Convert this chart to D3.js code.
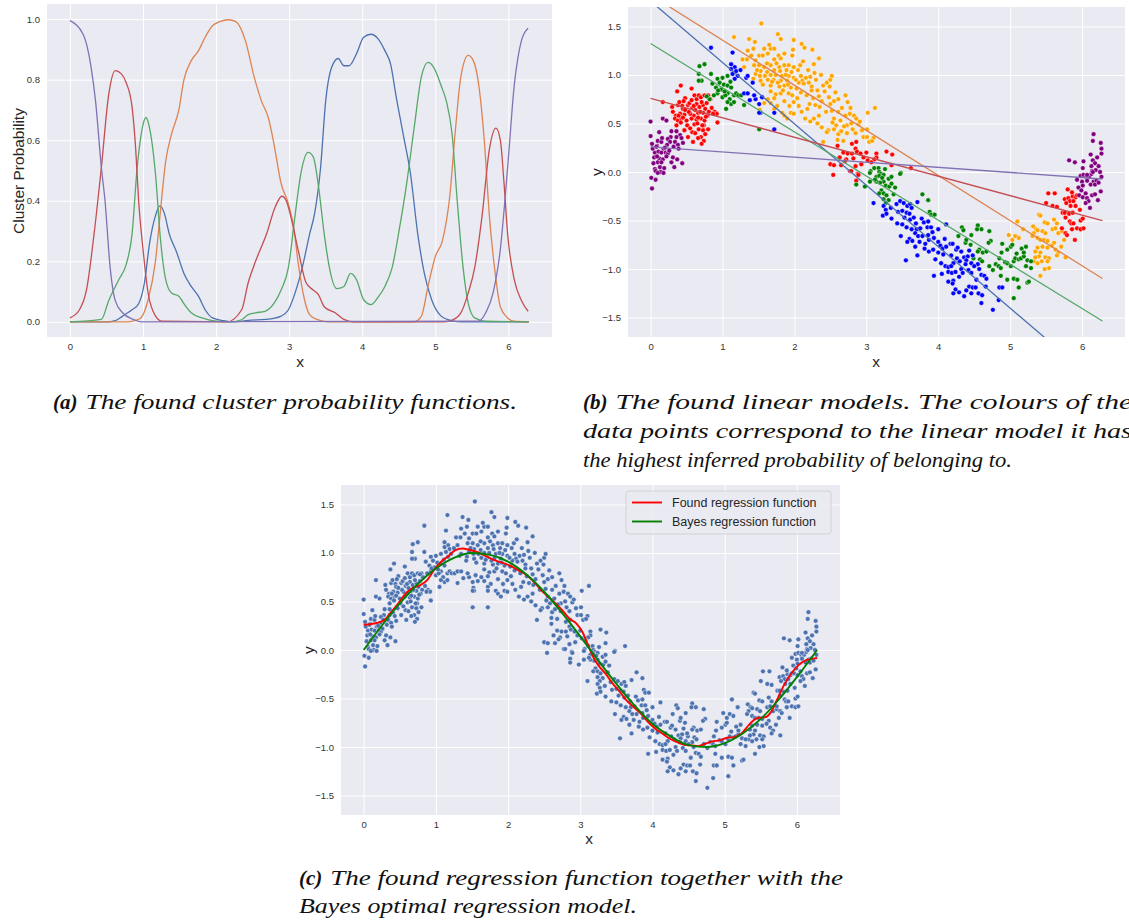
<!DOCTYPE html>
<html><head><meta charset="utf-8">
<script src="https://cdn.jsdelivr.net/npm/d3@7"></script>
<style>body{margin:0;background:#fff;} svg{display:block;}</style>
</head><body>
<script>
// ---------------- DATA ----------------
// (a) cluster probability functions: [x, probability]
const probBlue = [[0,0],[0.5,0],[0.62,0.004],[0.72,0.019],[0.85,0.04],[0.94,0.06],[1.02,0.13],[1.09,0.26],[1.17,0.35],[1.23,0.383],[1.29,0.36],[1.36,0.29],[1.46,0.23],[1.56,0.16],[1.66,0.117],[1.76,0.084],[1.85,0.04],[1.95,0.013],[2.1,0.004],[2.25,0],[2.44,0.005],[2.69,0.008],[2.89,0.019],[2.99,0.04],[3.08,0.095],[3.18,0.18],[3.28,0.29],[3.35,0.36],[3.43,0.51],[3.5,0.73],[3.58,0.84],[3.67,0.87],[3.75,0.846],[3.82,0.846],[3.92,0.885],[4.02,0.94],[4.12,0.95],[4.22,0.934],[4.31,0.896],[4.39,0.85],[4.46,0.75],[4.56,0.62],[4.66,0.49],[4.76,0.29],[4.85,0.16],[4.95,0.073],[5.08,0.019],[5.22,0.004],[5.35,0],[6.28,0]];
const probOrange = [[0,0],[0.8,0],[0.87,0.003],[0.97,0.013],[1.07,0.073],[1.17,0.2],[1.24,0.37],[1.31,0.53],[1.39,0.62],[1.49,0.7],[1.56,0.8],[1.66,0.863],[1.76,0.896],[1.85,0.94],[1.95,0.978],[2.05,0.992],[2.17,0.998],[2.27,0.992],[2.4,0.93],[2.52,0.81],[2.62,0.73],[2.72,0.67],[2.79,0.59],[2.89,0.457],[2.99,0.39],[3.06,0.315],[3.13,0.183],[3.21,0.073],[3.28,0.024],[3.38,0.008],[3.53,0],[4.71,0],[4.81,0.019],[4.9,0.117],[5.0,0.216],[5.1,0.27],[5.2,0.42],[5.27,0.62],[5.35,0.81],[5.45,0.88],[5.52,0.863],[5.59,0.79],[5.67,0.6],[5.74,0.35],[5.82,0.16],[5.89,0.05],[5.99,0.013],[6.08,0.002],[6.28,0]];
const probGreen = [[0,0],[0.43,0.008],[0.53,0.07],[0.67,0.14],[0.77,0.19],[0.85,0.29],[0.92,0.51],[0.99,0.64],[1.04,0.675],[1.09,0.64],[1.17,0.49],[1.24,0.27],[1.31,0.14],[1.39,0.095],[1.49,0.085],[1.56,0.06],[1.66,0.03],[1.81,0.013],[1.95,0.004],[2.2,0],[2.35,0.007],[2.44,0.024],[2.54,0.03],[2.67,0.035],[2.79,0.06],[2.89,0.105],[2.99,0.18],[3.08,0.35],[3.16,0.49],[3.26,0.56],[3.33,0.545],[3.4,0.45],[3.48,0.29],[3.55,0.18],[3.65,0.11],[3.75,0.117],[3.84,0.16],[3.92,0.14],[4.02,0.073],[4.12,0.057],[4.21,0.079],[4.31,0.117],[4.41,0.18],[4.51,0.31],[4.61,0.46],[4.71,0.64],[4.81,0.81],[4.9,0.857],[4.98,0.84],[5.08,0.78],[5.15,0.73],[5.23,0.62],[5.3,0.4],[5.38,0.18],[5.45,0.062],[5.54,0.013],[5.69,0.002],[6.28,0]];
const probRed = [[0,0.013],[0.13,0.04],[0.23,0.11],[0.33,0.29],[0.43,0.51],[0.53,0.75],[0.62,0.83],[0.7,0.82],[0.77,0.79],[0.85,0.71],[0.9,0.57],[0.94,0.4],[1.0,0.24],[1.07,0.095],[1.17,0.02],[1.26,0.002],[2.15,0],[2.35,0.04],[2.44,0.13],[2.54,0.2],[2.69,0.29],[2.81,0.38],[2.9,0.415],[2.96,0.4],[3.03,0.34],[3.13,0.23],[3.23,0.13],[3.33,0.105],[3.4,0.09],[3.48,0.05],[3.63,0.03],[3.75,0.008],[3.87,0],[5.1,0],[5.22,0.005],[5.35,0.03],[5.45,0.095],[5.54,0.18],[5.64,0.35],[5.74,0.57],[5.83,0.64],[5.89,0.6],[5.94,0.46],[5.99,0.29],[6.08,0.14],[6.18,0.07],[6.27,0.035]];
const probPurple = [[0,0.995],[0.18,0.95],[0.29,0.84],[0.35,0.73],[0.43,0.51],[0.48,0.4],[0.55,0.18],[0.62,0.07],[0.72,0.03],[0.87,0.008],[0.98,0],[5.59,0.002],[5.69,0.03],[5.79,0.095],[5.89,0.24],[5.99,0.51],[6.08,0.78],[6.18,0.93],[6.27,0.97]];

// (b)/(c) data points [x, y] grouped by assigned cluster
const ptsPurple = [[0,0.52],[0,0.37],[0.17,0.55],[0.22,0.53],[0.12,0.41],[0.29,0.42],[0.36,0.42],[0.41,0.38],[0.28,0.36],[0.24,0.34],[0.36,0.36],[0.43,0.35],[0.10,0.32],[0.15,0.31],[0.27,0.31],[0.34,0.31],[0.45,0.30],[0.09,0.27],[0.23,0.28],[0.38,0.28],[0.18,0.24],[0.06,0.2],[0.11,0.21],[0.15,0.2],[0.21,0.2],[0.24,0.19],[0.05,0.15],[0.12,0.14],[0.17,0.13],[0.31,0.15],[0.37,0.13],[0.44,0.09],[0.1,0.1],[0.15,0.1],[0.29,0.1],[0.06,0.03],[0.13,0.05],[0.19,0.04],[0.07,0.01],[0.14,0],[0.01,-0.06],[0.07,-0.08],[0.02,-0.17],[0.1,-0.01],[0.18,-0.01],[0.03,0.24],[0.08,0.26],[0.2,0.25],[0.26,0.22],[0.32,0.26],[0.04,0.09],[0.09,0.16],[0.22,0.16],[0.02,0.29],[0.16,0.35],[0.33,0.05],[0.39,0.24],
 [5.98,-0.04],[6.02,-0.03],[6.06,-0.05],[6.10,-0.05],[6.13,-0.02],[6.14,0.01],[5.93,-0.08],[6.00,-0.10],[6.07,-0.09],[6.16,-0.10],[6.20,-0.09],[6.12,-0.13],[6.18,-0.13],[6.23,-0.11],[6.01,-0.14],[5.95,-0.16],[5.99,-0.19],[6.05,-0.22],[5.96,-0.24],[6.01,-0.26],[6.07,-0.27],[6.09,-0.30],[6.14,-0.24],[6.18,-0.23],[6.26,-0.20],[6.22,-0.29],[6.11,-0.37],[6.05,-0.32],[6.16,0.39],[6.15,0.32],[6.26,0.30],[6.27,0.24],[6.27,0.19],[6.12,0.18],[6.21,0.15],[5.82,0.12],[5.90,0.10],[6.02,0.11],[6.01,0.04],[6.15,0.12],[6.18,0.09],[6.13,0.06],[6.23,0.06],[6.19,0.02],[6.15,0.0],[6.07,-0.03],[6.25,0.0],[6.27,-0.05]];
const ptsRed = [[0.17,0.72],[0.42,0.89],[0.37,0.83],[0.57,0.86],[0.61,0.79],[0.64,0.75],[0.67,0.79],[0.70,0.77],[0.75,0.79],[0.80,0.79],[0.83,0.75],[0.48,0.76],[0.52,0.69],[0.38,0.69],[0.44,0.68],[0.45,0.65],[0.58,0.66],[0.64,0.70],[0.68,0.67],[0.73,0.69],[0.76,0.65],[0.81,0.62],[0.89,0.62],[0.92,0.60],[0.87,0.60],[0.79,0.58],[0.73,0.61],[0.66,0.61],[0.60,0.58],[0.55,0.60],[0.47,0.59],[0.41,0.60],[0.35,0.58],[0.34,0.55],[0.38,0.53],[0.43,0.55],[0.50,0.53],[0.57,0.55],[0.64,0.54],[0.70,0.55],[0.75,0.53],[0.93,0.51],[0.36,0.48],[0.51,0.48],[0.61,0.49],[0.74,0.48],[0.58,0.41],[0.67,0.44],[0.73,0.43],[0.76,0.39],[0.52,0.36],[0.70,0.36],[0.74,0.32],[0.71,0.29],[0.59,0.31],[0.30,0.67],[0.31,0.62],[0.40,0.72],[0.46,0.73],[0.54,0.71],[0.62,0.64],[0.69,0.62],[0.78,0.71],[0.85,0.66],[0.42,0.51],[0.55,0.45],[0.65,0.50],[0.47,0.43],[0.62,0.40],[0.39,0.58],[0.53,0.62],[0.60,0.68],[0.71,0.72],[0.72,0.48],[0.80,0.44],[0.66,0.35],[0.45,0.56],[0.48,0.64],[0.57,0.74],[0.66,0.56],[0.77,0.57],
 [2.80,0.29],[2.86,0.31],[2.85,0.24],[2.87,0.21],[2.92,0.19],[2.60,0.27],[2.68,0.20],[2.74,0.19],[2.80,0.19],[3.00,0.20],[3.14,0.19],[3.28,0.21],[3.36,0.18],[2.63,0.15],[2.72,0.13],[2.82,0.14],[2.93,0.08],[3.02,0.12],[3.14,0.15],[3.11,0.13],[2.50,0.08],[2.55,0.07],[2.65,0.07],[2.77,0.01],[2.85,0.06],[2.88,-0.02],[3.35,0.07],[3.62,0.04],[2.54,-0.03],[2.79,0.01],[2.89,-0.03],[2.86,-0.09],[2.96,0.15],[3.07,0.10],[2.70,0.11],
 [5.53,-0.22],[5.62,-0.22],[5.50,-0.32],[5.59,-0.35],[5.65,-0.36],[5.76,-0.28],[5.81,-0.27],[5.83,-0.30],[5.78,-0.32],[5.87,-0.25],[5.91,-0.26],[5.93,-0.24],[5.88,-0.30],[5.84,-0.35],[5.91,-0.35],[5.97,-0.39],[5.73,-0.42],[5.76,-0.42],[5.82,-0.43],[5.87,-0.42],[5.77,-0.47],[5.83,-0.51],[5.85,-0.53],[5.88,-0.53],[5.98,-0.50],[6.01,-0.48],[5.86,-0.59],[5.93,-0.58],[5.98,-0.59],[6.02,-0.58],[5.77,-0.63],[5.79,-0.65],[5.90,-0.70],[5.72,-0.58],[5.80,-0.18],[5.86,-0.21]];
const ptsGreen = [[0.68,1.09],[0.75,1.11],[0.67,1.01],[0.84,1.01],[0.71,0.94],[0.67,0.94],[0.93,0.96],[1.0,0.97],[1.07,0.99],[0.96,0.92],[1.02,0.90],[0.91,0.87],[0.98,0.85],[1.07,0.89],[1.12,0.87],[1.07,0.81],[1.16,0.79],[1.19,0.81],[1.22,0.79],[0.93,0.81],[0.88,0.79],[0.82,0.75],[1.0,0.77],[1.04,0.79],[1.10,0.75],[1.12,0.70],[1.07,0.72],[1.05,0.65],[1.30,0.69],[1.16,0.72],[1.26,0.79],[1.51,0.44],[0.94,0.84],[1.03,0.83],[0.86,0.91],[1.11,0.93],[0.78,0.78],
 [3.06,0.01],[3.11,0.04],[3.17,0.04],[3.26,0.03],[3.18,0.0],[3.20,-0.02],[3.48,-0.01],[3.05,-0.01],[3.14,-0.05],[3.18,-0.04],[3.24,-0.03],[3.31,-0.07],[3.35,-0.05],[3.24,-0.1],[3.19,-0.11],[3.14,-0.1],[3.05,-0.1],[2.98,-0.15],[2.86,-0.13],[3.27,-0.14],[3.32,-0.15],[3.40,-0.16],[3.21,-0.19],[3.18,-0.22],[3.24,-0.22],[3.28,-0.24],[3.38,-0.23],[3.24,-0.28],[3.31,-0.29],[3.27,-0.32],[3.47,-0.02],[3.78,-0.23],[3.86,-0.29],[3.88,-0.41],[3.90,-0.44],[3.95,-0.44],[4.33,-0.57],[4.38,-0.73],[3.35,-0.12],[3.22,-0.06],[3.12,-0.08],
 [4.55,-0.55],[4.60,-0.59],[4.71,-0.61],[4.54,-0.59],[4.46,-0.65],[4.39,-0.70],[4.73,-0.71],[4.70,-0.73],[4.57,-0.80],[4.55,-0.82],[4.62,-0.83],[4.67,-0.82],[4.49,-0.89],[4.58,-0.90],[4.61,-0.92],[4.71,-0.97],[4.80,-0.95],[4.84,-0.97],[4.87,-0.99],[4.76,-1.01],[4.88,-0.83],[4.85,-0.89],[4.89,-0.74],[4.96,-0.80],[5.01,-0.77],[5.03,-0.75],[4.93,-0.93],[4.96,-0.94],[5.01,-0.97],[5.05,-0.92],[5.07,-0.89],[5.09,-0.84],[5.12,-0.90],[5.15,-0.89],[5.19,-0.87],[5.24,-0.91],[5.22,-0.97],[5.29,-0.92],[5.29,-0.99],[5.16,-0.79],[5.19,-0.83],[5.22,-0.77],[4.87,-1.07],[4.96,-1.11],[5.05,-1.10],[5.10,-1.11],[5.12,-1.19],[5.24,-1.14],[5.26,-1.13],[5.05,-1.30],[4.28,-0.66],[4.35,-0.60],[4.45,-0.75]];
const ptsBlue = [[0.84,1.28],[1.14,1.23],[1.17,1.08],[1.12,1.06],[1.19,1.04],[1.14,1.01],[1.21,0.99],[1.17,0.96],[1.33,0.97],[1.35,0.99],[1.42,0.92],[1.30,0.81],[1.35,0.81],[1.46,0.75],[1.51,0.70],[1.44,0.79],[1.53,0.61],[1.51,0.61],[1.72,0.44],[1.72,0.61],[1.12,1.11],[1.25,1.05],[1.38,0.74],[1.55,0.77],
 [3.10,-0.32],[3.24,-0.35],[3.27,-0.39],[3.42,-0.33],[3.47,-0.30],[3.52,-0.32],[3.57,-0.35],[3.61,-0.33],[3.63,-0.37],[3.71,-0.31],[3.44,-0.41],[3.50,-0.40],[3.56,-0.42],[3.23,-0.45],[3.28,-0.43],[3.35,-0.48],[3.60,-0.43],[3.61,-0.49],[3.66,-0.47],[3.69,-0.53],[3.77,-0.48],[3.80,-0.52],[3.86,-0.51],[3.43,-0.53],[3.50,-0.54],[3.56,-0.57],[3.63,-0.59],[3.70,-0.59],[3.75,-0.58],[3.85,-0.57],[3.90,-0.57],[4.00,-0.59],[4.11,-0.54],[3.48,-0.66],[3.68,-0.63],[3.72,-0.66],[3.78,-0.66],[3.86,-0.65],[3.87,-0.70],[3.94,-0.68],[4.00,-0.72],[4.03,-0.76],[3.60,-0.69],[3.64,-0.71],[3.57,-0.72],[3.68,-0.77],[3.81,-0.79],[3.87,-0.82],[3.93,-0.80],[4.00,-0.83],[4.06,-0.79],[4.11,-0.77],[4.07,-0.85],[4.17,-0.74],[4.20,-0.74],[4.25,-0.80],[4.27,-0.78],[4.32,-0.82],[4.18,-0.86],[4.26,-0.89],[4.30,-0.92],[4.36,-0.88],[4.21,-0.94],[4.10,-0.97],[4.14,-0.98],[4.18,-0.97],[4.04,-0.94],[3.55,-0.91],[3.71,-0.86],[3.94,-1.07],[4.14,-1.03],[4.19,-1.04],[4.24,-1.03],[4.32,-1.0],[4.34,-1.04],[4.29,-1.08],[4.21,-1.12],[4.14,-1.13],[4.20,-1.15],[4.24,-1.21],[4.21,-1.25],[4.29,-1.24],[4.36,-1.28],[4.43,-0.81],[4.41,-0.87],[4.48,-0.86],[4.39,-0.91],[4.46,-0.94],[4.55,-0.95],[4.50,-0.97],[4.42,-1.01],[4.57,-1.0],[4.46,-1.04],[4.60,-1.06],[4.64,-1.07],[4.67,-1.10],[4.53,-1.11],[4.43,-1.18],[4.48,-1.19],[4.52,-1.19],[4.56,-1.25],[4.46,-1.25],[4.61,-1.27],[4.66,-1.18],[4.85,-1.19],[4.89,-1.19],[4.60,-1.35],[4.84,-1.32],[4.76,-1.42],[4.39,-1.22],[3.34,-0.37],[3.53,-0.47],[3.74,-0.72],[3.96,-0.90],[4.09,-0.69],[4.38,-0.95],[3.92,-0.62],[3.82,-0.74],[4.05,-1.05]];
const ptsOrange = [[1.54,1.53],[1.16,1.39],[1.37,1.37],[1.45,1.34],[1.81,1.37],[1.99,1.36],[1.43,1.27],[1.58,1.27],[1.67,1.27],[1.72,1.27],[1.40,1.20],[1.51,1.20],[1.56,1.20],[1.63,1.22],[1.78,1.20],[1.86,1.22],[1.97,1.20],[1.28,1.16],[1.34,1.16],[1.46,1.15],[1.72,1.16],[1.81,1.17],[1.30,1.08],[1.44,1.10],[1.51,1.10],[1.58,1.08],[1.67,1.10],[1.79,1.08],[1.86,1.10],[1.92,1.10],[1.99,1.08],[1.53,1.04],[1.62,1.03],[1.72,1.05],[1.80,1.04],[1.89,1.05],[1.96,1.03],[1.46,1.01],[1.52,0.99],[1.59,0.99],[1.67,1.0],[1.74,1.0],[1.83,0.99],[1.92,0.99],[1.99,0.97],[1.43,0.96],[1.53,0.94],[1.63,0.95],[1.71,0.95],[1.81,0.94],[1.90,0.94],[1.56,0.90],[1.67,0.89],[1.79,0.88],[1.86,0.89],[1.95,0.87],[1.67,0.83],[1.74,0.80],[1.81,0.81],[1.92,0.81],[1.97,0.79],[1.63,0.75],[1.72,0.76],[1.86,0.73],[1.99,0.72],[1.58,0.71],[1.67,0.71],[1.76,0.68],[1.52,0.64],[1.72,0.65],[1.83,0.61],[1.95,0.61],[1.86,0.58],[1.99,0.60],[1.90,0.55],
 [2.14,1.28],[2.34,1.17],[2.12,1.14],[2.27,1.11],[2.05,1.05],[2.28,1.02],[2.09,0.99],[2.16,0.97],[2.22,0.98],[2.11,0.94],[2.06,0.92],[2.13,0.91],[2.20,0.92],[2.24,0.88],[2.40,0.89],[2.45,0.92],[2.50,0.95],[2.52,0.99],[2.49,0.88],[2.32,0.84],[2.24,0.84],[2.09,0.82],[2.17,0.79],[2.34,0.78],[2.48,0.77],[2.71,0.79],[2.38,0.73],[2.55,0.73],[2.61,0.75],[2.21,0.70],[2.29,0.69],[2.50,0.70],[2.74,0.72],[2.06,0.68],[2.18,0.65],[2.35,0.67],[2.61,0.62],[2.66,0.66],[3.12,0.66],[2.77,0.60],[2.71,0.58],[2.83,0.58],[2.15,0.55],[2.27,0.55],[2.34,0.58],[2.55,0.55],[2.64,0.53],[2.86,0.55],[2.22,0.52],[2.32,0.50],[2.53,0.51],[2.58,0.48],[2.73,0.48],[2.79,0.50],[2.89,0.49],[2.38,0.46],[2.55,0.44],[2.69,0.47],[2.81,0.44],[2.47,0.43],[2.85,0.40],[2.94,0.43],[3.01,0.44],[3.02,0.61],[2.45,0.41],[2.61,0.39],[2.73,0.40],[2.96,0.36],[3.01,0.36],[3.10,0.35],[3.04,0.31],[3.08,0.32],[2.40,0.31],[2.60,0.33],[2.68,0.32],
 [1.35,1.25],[1.48,1.05],[1.62,1.12],[1.75,1.12],[1.88,1.0],[1.69,0.93],[1.77,0.92],[1.84,0.84],[1.91,0.90],[2.02,0.95],[2.03,0.86],[2.08,1.10],[2.19,1.05],[2.30,0.95],[2.37,1.00],[2.42,0.83],[2.57,0.82],[2.26,0.76],[2.44,0.62],[2.52,0.63],[2.65,0.42],[2.91,0.52],[2.78,0.66],[2.04,0.76],[1.93,0.68],[2.10,0.62],[1.98,1.26],[1.65,1.31],[1.77,1.42],[2.10,1.32],[2.25,1.26],
 [5.10,-0.51],[4.98,-0.65],[5.07,-0.66],[5.12,-0.68],[5.03,-0.70],[5.18,-0.59],[5.32,-0.56],[5.36,-0.59],[5.40,-0.44],[5.42,-0.45],[5.48,-0.52],[5.52,-0.53],[5.38,-0.60],[5.45,-0.61],[5.49,-0.63],[5.33,-0.63],[5.31,-0.66],[5.38,-0.68],[5.42,-0.70],[5.47,-0.70],[5.52,-0.71],[5.59,-0.59],[5.61,-0.49],[5.65,-0.53],[5.63,-0.58],[5.67,-0.63],[5.72,-0.61],[5.75,-0.70],[5.61,-0.73],[5.58,-0.76],[5.52,-0.78],[5.45,-0.77],[5.38,-0.78],[5.35,-0.82],[5.42,-0.83],[5.40,-0.87],[5.49,-0.88],[5.54,-0.89],[5.52,-0.92],[5.63,-0.80],[5.67,-0.83],[5.65,-0.86],[5.77,-0.88],[5.71,-0.77],[5.33,-0.92],[5.38,-0.94],[5.44,-0.92],[5.42,-1.07],[5.54,-0.99],[5.48,-1.0],[5.35,-0.88]];

// (b) fitted linear models: y = intercept + slope * x
const modelNames = ["blue","orange","green","red","purple"];
const modelIntercepts = [1.761, 1.824, 1.324, 0.759, 0.259];
const modelSlopes = [-0.6326, -0.465, -0.455, -0.2005, -0.0527];

// (c) regression functions [x, y]
const foundReg = [[0,0.26],[0.18,0.278],[0.28,0.306],[0.38,0.39],[0.48,0.48],[0.58,0.58],[0.68,0.64],[0.78,0.667],[0.88,0.72],[0.97,0.82],[1.07,0.907],[1.17,0.966],[1.27,1.03],[1.37,1.045],[1.47,1.03],[1.57,1.01],[1.67,0.976],[1.77,0.94],[1.86,0.914],[1.96,0.89],[2.06,0.856],[2.16,0.814],[2.26,0.77],[2.36,0.70],[2.46,0.615],[2.56,0.546],[2.66,0.478],[2.75,0.41],[2.85,0.323],[2.95,0.27],[3.03,0.186],[3.10,0.065],[3.18,-0.072],[3.25,-0.158],[3.35,-0.244],[3.45,-0.347],[3.55,-0.433],[3.64,-0.52],[3.74,-0.588],[3.84,-0.656],[3.94,-0.742],[4.04,-0.811],[4.14,-0.862],[4.24,-0.914],[4.34,-0.948],[4.44,-0.976],[4.54,-0.983],[4.63,-0.99],[4.73,-0.966],[4.83,-0.942],[4.93,-0.931],[5.03,-0.904],[5.13,-0.897],[5.23,-0.862],[5.33,-0.777],[5.40,-0.725],[5.47,-0.698],[5.57,-0.69],[5.64,-0.64],[5.72,-0.52],[5.82,-0.364],[5.92,-0.244],[6.02,-0.158],[6.12,-0.107],[6.22,-0.089],[6.28,-0.082]];
const bayesReg = [[0,0],[0.25,0.25],[0.5,0.48],[0.75,0.68],[1.0,0.84],[1.25,0.95],[1.5,1.0],[1.75,0.98],[2.0,0.91],[2.25,0.78],[2.5,0.6],[2.75,0.38],[3.0,0.14],[3.25,-0.11],[3.5,-0.35],[3.75,-0.57],[4.0,-0.76],[4.25,-0.89],[4.5,-0.98],[4.75,-1.0],[5.0,-0.96],[5.25,-0.86],[5.5,-0.71],[5.75,-0.51],[6.0,-0.28],[6.28,0.0]];

const xTicks = [0,1,2,3,4,5,6];
const probTicks = [0,0.2,0.4,0.6,0.8,1.0];
const yTicks = [-1.5,-1.0,-0.5,0,0.5,1.0,1.5];
const legendLabels = ["Found regression function","Bayes regression function"];

// ---------------- DRAWING ----------------
const FONT = "'Liberation Sans', Arial, sans-serif";
const SERIF = "'Liberation Serif', 'Times New Roman', serif";
const deep = {blue:"#4c72b0", orange:"#dd8452", green:"#55a868", red:"#c44e52", purple:"#8172b3"};
const named = {blue:"#0000ff", orange:"#ffa500", green:"#008000", red:"#ff0000", purple:"#800080"};

const svg = d3.select("body").append("svg").attr("width",1129).attr("height",924)
  .style("font-family", FONT);

let clipN = 0;
function makePanel(r, xDom, yDom, xT, yT, yFmt) {
  const x = d3.scaleLinear().domain(xDom).range([r.x, r.x + r.w]);
  const y = d3.scaleLinear().domain(yDom).range([r.y + r.h, r.y]);
  const g = svg.append("g");
  g.append("rect").attr("x", r.x).attr("y", r.y).attr("width", r.w).attr("height", r.h).attr("fill", "#eaeaf2");
  const ax = g.append("g").attr("transform", `translate(0,${r.y + r.h})`)
    .call(d3.axisBottom(x).tickValues(xT).tickSize(-r.h).tickPadding(6).tickFormat(d3.format("d")));
  const ay = g.append("g").attr("transform", `translate(${r.x},0)`)
    .call(d3.axisLeft(y).tickValues(yT).tickSize(-r.w).tickPadding(7).tickFormat(d3.format(yFmt)));
  [ax, ay].forEach(a => {
    a.select(".domain").remove();
    a.selectAll(".tick line").attr("stroke", "#ffffff").attr("stroke-width", 1);
    a.selectAll(".tick text").attr("fill", "#333").style("font-size", "9.5px").style("font-family", FONT);
  });
  const id = "clip" + (clipN++);
  svg.append("clipPath").attr("id", id).append("rect")
    .attr("x", r.x).attr("y", r.y).attr("width", r.w).attr("height", r.h);
  const plot = g.append("g").attr("clip-path", `url(#${id})`);
  return {x, y, g, plot, r};
}
function axisLabel(txt, cx, cy, rot) {
  svg.append("text").attr("transform", `translate(${cx},${cy})` + (rot ? " rotate(-90)" : ""))
    .attr("text-anchor", "middle").attr("dominant-baseline", "central")
    .attr("fill", "#262626").style("font-size", "15.5px").text(txt);
}

// ----- Panel (a)
const A = makePanel({x:47, y:4, w:505, h:333}, [-0.314, 6.597], [-0.05, 1.05], xTicks, probTicks, ".1f");
const lineA = d3.line().x(d => A.x(d[0])).y(d => A.y(d[1])).curve(d3.curveMonotoneX);
[[probBlue,"blue"],[probOrange,"orange"],[probGreen,"green"],[probRed,"red"],[probPurple,"purple"]].forEach(([arr, c]) => {
  A.plot.append("path").datum(arr).attr("d", lineA).attr("fill", "none")
    .attr("stroke", deep[c]).attr("stroke-width", 1.3);
});
axisLabel("x", 300, 361, false);
axisLabel("Cluster Probability", 18, 171, true);

// ----- Panel (b)
const B = makePanel({x:628, y:7, w:497, h:330}, [-0.314, 6.597], [-1.70, 1.70], xTicks, yTicks, ".1f");
const groups = [[ptsOrange,"orange"],[ptsRed,"red"],[ptsPurple,"purple"],[ptsGreen,"green"],[ptsBlue,"blue"]];
groups.forEach(([arr, c]) => {
  B.plot.append("g").selectAll("circle").data(arr).join("circle")
    .attr("cx", d => B.x(d[0])).attr("cy", d => B.y(d[1])).attr("r", 2.4)
    .attr("fill", named[c]).attr("stroke", "#fff").attr("stroke-width", 0.45);
});
const xEnds = [0, 6.283];
modelNames.forEach((c, i) => {
  const pts = xEnds.map(xv => [xv, modelIntercepts[i] + modelSlopes[i] * xv]);
  B.plot.append("path").datum(pts)
    .attr("d", d3.line().x(d => B.x(d[0])).y(d => B.y(d[1])))
    .attr("fill", "none").attr("stroke", deep[c]).attr("stroke-width", 1.3);
});
axisLabel("x", 876, 361, false);
axisLabel("y", 596, 172, true);

// ----- Panel (c)
const C = makePanel({x:341, y:485, w:499, h:330}, [-0.314, 6.597], [-1.70, 1.70], xTicks, yTicks, ".1f");
const allPts = groups.flatMap(([arr]) => arr);
C.plot.append("g").selectAll("circle").data(allPts).join("circle")
  .attr("cx", d => C.x(d[0])).attr("cy", d => C.y(d[1])).attr("r", 2.4)
  .attr("fill", deep.blue).attr("stroke", "#fff").attr("stroke-width", 0.45);
const lineC = d3.line().x(d => C.x(d[0])).y(d => C.y(d[1])).curve(d3.curveMonotoneX);
C.plot.append("path").datum(foundReg).attr("d", lineC).attr("fill", "none").attr("stroke", "#ff0000").attr("stroke-width", 1.9);
C.plot.append("path").datum(bayesReg).attr("d", lineC).attr("fill", "none").attr("stroke", "#008000").attr("stroke-width", 1.9);
axisLabel("x", 589, 838, false);
axisLabel("y", 308, 650, true);

// legend
const lg = svg.append("g").attr("transform", "translate(626,491)");
lg.append("rect").attr("width", 205).attr("height", 43).attr("rx", 3)
  .attr("fill", "#eaeaf2").attr("fill-opacity", 0.85).attr("stroke", "#cccccc").attr("stroke-width", 0.8);
legendLabels.forEach((t, i) => {
  const yy = 11.5 + i * 19;
  lg.append("line").attr("x1", 6).attr("x2", 36).attr("y1", yy).attr("y2", yy)
    .attr("stroke", i === 0 ? "#ff0000" : "#008000").attr("stroke-width", 1.9);
  lg.append("text").attr("x", 46).attr("y", yy).attr("dominant-baseline", "central")
    .attr("fill", "#262626").style("font-size", "12.5px").text(t);
});

// ----- captions
function caption(x, y, endX, bold, rest) {
  let startX = x;
  if (bold) {
    const b = svg.append("text").attr("x", x).attr("y", y)
      .style("font-family", SERIF).style("font-style", "italic").style("font-weight", "bold")
      .style("font-size", "21px").attr("fill", "#111").text(bold);
    startX = x + b.node().getComputedTextLength() + 8;
  }
  svg.append("text").attr("x", startX).attr("y", y)
    .style("font-family", SERIF).style("font-style", "italic").style("font-size", "21px")
    .attr("fill", "#111").attr("textLength", endX - startX).attr("lengthAdjust", "spacingAndGlyphs")
    .text(rest);
}
caption(53, 409, 517, "(a)", "The found cluster probability functions.");
caption(583, 409, 1132, "(b)", "The found linear models.  The colours of the");
caption(583, 438, 1132, null, "data points correspond to the linear model it has");
caption(583, 467, 1012, null, "the highest inferred probability of belonging to.");
caption(299, 885, 843, "(c)", "The found regression function together with the");
caption(299, 913, 637, null, "Bayes optimal regression model.");
</script>
</body></html>
